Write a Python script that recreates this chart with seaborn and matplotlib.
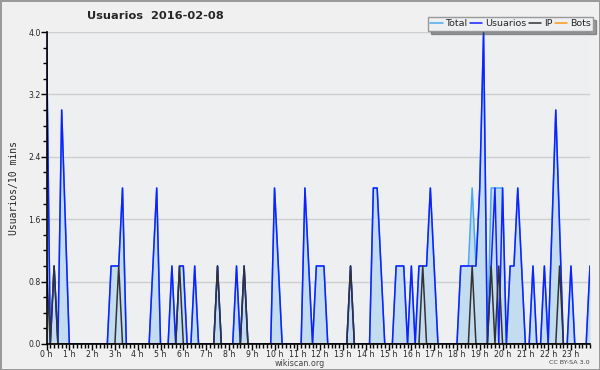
import matplotlib
matplotlib.use('Agg')

from matplotlib import pyplot as plt
from matplotlib.lines import Line2D
import seaborn as sns


# one point per 10 minutes, 144 slots in the day
SLOTS = list(range(144))
HOUR_LABELS = ['%d h' % h for h in range(24)]

# values, six slots per row (one hour)
USUARIOS = [
    4, 0, 1, 0, 3, 1.5,   # 0h
    0, 0, 0, 0, 0, 0,     # 1h
    0, 0, 0, 0, 0, 1,     # 2h
    1, 1, 2, 0, 0, 0,     # 3h
    0, 0, 0, 0, 1, 2,     # 4h
    0, 0, 0, 1, 0, 1,     # 5h
    1, 0, 0, 1, 0, 0,     # 6h
    0, 0, 0, 1, 0, 0,     # 7h
    0, 0, 1, 0, 1, 0,     # 8h
    0, 0, 0, 0, 0, 0,     # 9h
    2, 1, 0, 0, 0, 0,     # 10h
    0, 0, 2, 1, 0, 1,     # 11h
    1, 1, 0, 0, 0, 0,     # 12h
    0, 0, 1, 0, 0, 0,     # 13h
    0, 0, 2, 2, 1, 0,     # 14h
    0, 0, 1, 1, 1, 0,     # 15h
    1, 0, 1, 1, 1, 2,     # 16h
    1, 0, 0, 0, 0, 0,     # 17h
    0, 1, 1, 1, 1, 1,     # 18h
    2, 4, 0, 1, 2, 0,     # 19h
    2, 0, 1, 1, 2, 1,     # 20h
    0, 0, 1, 0, 0, 1,     # 21h
    0, 1.5, 3, 1.5, 0, 0, # 22h
    1, 0, 0, 0, 0, 1,     # 23h
]

TOTAL = list(USUARIOS)
for slot, value in [(112, 2), (117, 2), (119, 2)]:
    TOTAL[slot] = value

IP = [0] * 144
for slot in [0, 2, 19, 35, 45, 52, 80, 99, 112, 117, 119, 135]:
    IP[slot] = 1

BOTS = [0] * 144

SERIES = [
    ('Total', TOTAL, '#4aa8f0'),
    ('Usuarios', USUARIOS, '#1020ff'),
    ('IP', IP, '#333333'),
    ('Bots', BOTS, '#ff9a10'),
]

BG = '#eeeff1'


def create_figure():
    sns.set_style('white', {'axes.facecolor': BG, 'figure.facecolor': '#f0f0f0'})
    fig = plt.figure(figsize=(6, 3.7), dpi=100)
    fig.patch.set_edgecolor('#9a9a9a')
    fig.patch.set_linewidth(2)
    ax = fig.add_axes([0.0775, 0.0703, 0.9058, 0.8432])
    ax.set_facecolor(BG)

    ax.fill_between(SLOTS, TOTAL, 0, color='#c4dcf0', lw=0, zorder=1)
    # bots first so the zero line hides under the others
    for name, values, color in SERIES[3:] + SERIES[:3]:
        sns.lineplot(x=SLOTS, y=values, color=color, lw=1.1, ax=ax,
                     legend=False, zorder=2)

    _style_axes(ax)
    return fig, ax


def _style_axes(ax):
    ax.set_xlim(0, 143)
    ax.set_ylim(0, 4.0)
    ax.set_xticks(range(0, 144, 6))
    ax.set_xticklabels(HOUR_LABELS)
    ax.set_xticks(SLOTS, minor=True)
    yt = [0.0, 0.8, 1.6, 2.4, 3.2, 4.0]
    ax.set_yticks(yt)
    ax.set_yticklabels(['%.1f' % v for v in yt])
    ax.set_yticks([i * 0.2 for i in range(21)], minor=True)
    ax.yaxis.grid(True, color='#cfcfcf', lw=1)
    ax.set_axisbelow(True)

    ax.tick_params(which='both', direction='out', color='black', width=1,
                   labelsize=5.6, pad=0, left=True, bottom=True)
    ax.tick_params(which='major', length=4)
    ax.tick_params(which='minor', length=3)
    for side in ['top', 'right']:
        ax.spines[side].set_visible(False)
    for side in ['left', 'bottom']:
        ax.spines[side].set_color('black')
        ax.spines[side].set_linewidth(1.2)
        ax.spines[side].set_zorder(3)

    ax.set_xlabel('')
    ax.set_ylabel('Usuarios/10 mins', family='DejaVu Sans Mono', fontsize=7,
                  labelpad=7)


def add_infos(fig):
    fig.text(87 / 600, 1 - 16 / 370, 'Usuarios  2016-02-08',
             fontsize=8.2, fontweight='bold', va='center', ha='left')
    fig.text(300 / 600, 1 - 363.5 / 370, 'wikiscan.org', fontsize=5.8,
             color='#444444', ha='center', va='center')
    fig.text(590 / 600, 1 - 363 / 370, 'CC BY-SA 3.0', fontsize=4.6,
             color='#444444', ha='right', va='center')

    handles = [Line2D([], [], color=c, lw=1.1) for _, _, c in SERIES]
    labels = [n for n, _, _ in SERIES]
    fig.legend(handles, labels, loc='upper right',
               bbox_to_anchor=(593 / 600, 1 - 17 / 370), ncol=4,
               fontsize=6.8, handlelength=1.3, handletextpad=0.3,
               columnspacing=0.25, borderpad=0.25, borderaxespad=0,
               frameon=True, fancybox=False, shadow=True,
               edgecolor='#999999', framealpha=1)


fig, ax = create_figure()
add_infos(fig)
fig.savefig('out.png', dpi=100)
